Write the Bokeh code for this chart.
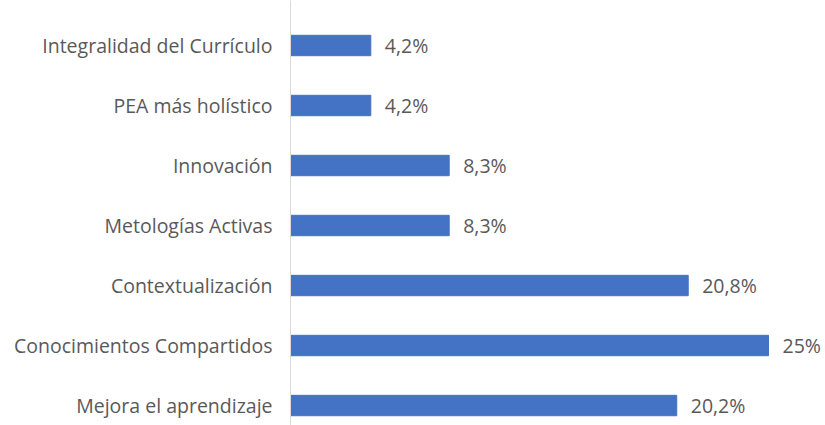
from bokeh.plotting import figure
from bokeh.models import ColumnDataSource, Range1d, FixedTicker
from bokeh.core.properties import value
from bokeh.embed import file_html
from bokeh.resources import INLINE

categories = ["Integralidad del Currículo", "PEA más holístico", "Innovación",
              "Metologías Activas", "Contextualización", "Conocimientos Compartidos",
              "Mejora el aprendizaje"]
values = [4.2, 4.2, 8.3, 8.3, 20.8, 25.0, 20.2]
value_labels = ["4,2%", "4,2%", "8,3%", "8,3%", "20,8%", "25%", "20,2%"]

pos = list(range(len(categories)))
src = ColumnDataSource(dict(y=pos, v=values, lab=value_labels))

p = figure(width=825, height=425, output_backend="svg", toolbar_location=None,
           x_range=Range1d(0, 27.98), y_range=Range1d(6.333, -0.75),
           min_border_left=290, min_border_right=0, min_border_top=0, min_border_bottom=0)
p.background_fill_color = "white"
p.border_fill_color = "white"
p.outline_line_color = None
p.xgrid.visible = False
p.ygrid.visible = False
p.xaxis.visible = False

p.hbar(y="y", left=0, right="v", height=0.34, source=src, color="#4472C4")
p.text(x="v", y="y", text="lab", source=src, x_offset=14, text_baseline="middle",
       text_align="left", text_color="#595959", text_font=value("Open Sans"),
       text_font_size="19.5px")

ya = p.yaxis[0]
ya.ticker = FixedTicker(ticks=pos)
ya.major_label_overrides = {i: c for i, c in zip(pos, categories)}
ya.major_tick_line_color = None
ya.minor_tick_line_color = None
ya.axis_line_color = "#d9d9d9"
ya.major_label_text_color = "#595959"
ya.major_label_text_font = "Open Sans"
ya.major_label_text_font_size = "19.5px"
ya.major_label_standoff = 12

open("out.html", "w").write(file_html(p, INLINE))
